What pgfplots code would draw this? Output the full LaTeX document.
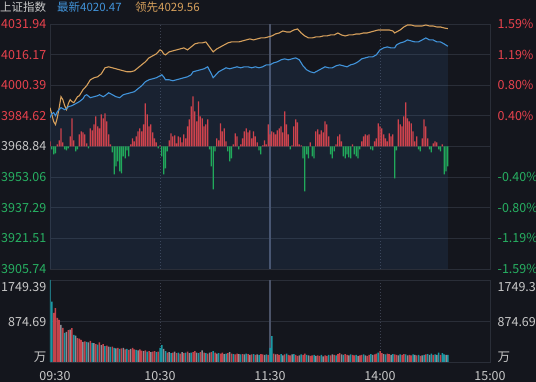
\documentclass[border=0pt]{standalone}
\usepackage{pgfplots}
\pgfplotsset{compat=1.18}
\usepackage{pgfplotstable}
\usepackage{fontspec}
\setmainfont{Noto Sans CJK SC}
\definecolor{bg}{HTML}{14161D}
\definecolor{gridc}{HTML}{2A2E38}
\definecolor{midc}{HTML}{4B5368}
\definecolor{dotc}{HTML}{3C4150}
\definecolor{upc}{HTML}{E8424D}
\definecolor{dnc}{HTML}{27B062}
\definecolor{upbar}{HTML}{CF434D}
\definecolor{dnbar}{HTML}{21A95B}
\definecolor{bluel}{HTML}{4193D9}
\definecolor{orgl}{HTML}{D6A05C}
\definecolor{labc}{HTML}{C8C8C8}
\definecolor{volr}{HTML}{C4434B}
\definecolor{volt}{HTML}{1A98A4}
\definecolor{volg}{HTML}{8C8C94}
\definecolor{fillc}{HTML}{3A6FB0}

\pgfplotsset{
  panel/.style={scale only axis, width=440pt, xmin=0, xmax=240, tick style={draw=none},
    xticklabels={}, yticklabels={}, axis line style={gridc, line width=0.8pt},
    major grid style={gridc, line width=0.8pt},
    xtick={60,180}, xmajorgrids, ymajorgrids,
    major x grid style={dotc, dash pattern=on 1.2pt off 1.8pt, line width=0.8pt},
    extra x ticks={120}, extra x tick labels={},
    extra x tick style={xmajorgrids, major x grid style={midc, solid, line width=1.5pt}}},
  vbar/.style={ybar, bar width=1.5pt, bar shift=0pt, draw=none}
}
\tikzset{
  lab/.style={font=\fontsize{12.5}{14}\selectfont, inner sep=0pt},
  ttl/.style={font=\fontsize{11.5}{13}\selectfont, inner sep=0pt, anchor=west}
}

\pgfplotstableread[row sep=\\]{
x y\\
0 3983.72\\ 1 3985.77\\ 2 3986.28\\ 3 3984.74\\ 4 3986.80\\ 5 3987.82\\ 6 3988.85\\ 8 3987.82\\ 9 3988.33\\ 10 3989.36\\
12 3989.87\\ 14 3990.90\\ 16 3991.93\\ 18 3993.46\\ 19 3995.00\\ 20 3995.52\\ 22 3993.98\\ 24 3994.49\\ 26 3995.00\\ 27 3995.52\\
29 3994.49\\ 30 3995.00\\ 32 3996.54\\ 34 3995.52\\ 36 3994.49\\ 38 3993.98\\ 40 3995.52\\ 42 3996.03\\ 44 3996.54\\ 46 3997.06\\
48 3998.59\\ 50 4000.13\\ 52 4002.19\\ 54 4003.21\\ 56 4003.72\\ 58 4004.24\\ 60 4005.26\\ 61 4005.78\\ 62 4004.75\\ 63 4003.21\\
65 4003.21\\ 67 4002.70\\ 69 4003.21\\ 71 4003.72\\ 73 4004.24\\ 75 4004.75\\ 77 4005.78\\ 78 4007.32\\ 80 4007.83\\ 82 4008.34\\
84 4008.85\\ 86 4009.88\\ 88 4006.29\\ 89 4004.24\\ 90 4005.26\\ 92 4007.32\\ 94 4008.34\\ 96 4009.37\\ 98 4008.85\\ 100 4009.37\\
102 4009.88\\ 104 4009.37\\ 106 4009.88\\ 108 4009.88\\ 110 4009.37\\ 112 4009.88\\ 114 4009.37\\ 116 4009.88\\ 118 4010.91\\ 120 4010.91\\
122 4011.93\\ 124 4012.45\\ 126 4013.47\\ 128 4013.98\\ 130 4013.47\\ 132 4013.98\\ 134 4014.50\\ 136 4013.47\\ 137 4011.93\\ 138 4010.39\\
140 4008.34\\ 142 4007.32\\ 144 4006.80\\ 146 4007.83\\ 148 4008.85\\ 150 4009.88\\ 152 4009.37\\ 154 4009.37\\ 156 4010.39\\ 158 4010.91\\
160 4010.39\\ 162 4009.88\\ 164 4010.91\\ 166 4011.42\\ 168 4012.45\\ 170 4013.98\\ 172 4014.50\\ 174 4015.01\\ 176 4015.01\\ 178 4016.04\\
180 4018.60\\ 182 4019.63\\ 184 4020.14\\ 186 4019.63\\ 188 4019.63\\ 189 4021.17\\ 191 4022.19\\ 193 4022.71\\ 195 4023.73\\ 197 4023.22\\
199 4022.71\\ 201 4022.71\\ 203 4023.73\\ 205 4024.76\\ 207 4023.73\\ 209 4023.73\\ 211 4022.71\\ 213 4022.71\\ 215 4021.68\\ 217 4020.47\\
}\bluetab

\pgfplotstableread[row sep=\\]{
x y\\
0 3988.85\\ 1 3985.26\\ 2 3981.67\\ 3 3980.13\\ 4 3983.72\\ 5 3988.85\\ 6 3994.49\\ 7 3992.95\\ 8 3989.87\\ 9 3987.82\\
10 3990.90\\ 11 3992.95\\ 12 3991.93\\ 13 3991.41\\ 14 3992.95\\ 15 3994.49\\ 16 3995.00\\ 18 3998.08\\ 20 4000.13\\ 22 4003.21\\
24 4004.24\\ 26 4004.75\\ 28 4006.29\\ 30 4009.37\\ 32 4009.88\\ 34 4009.37\\ 36 4008.85\\ 38 4008.34\\ 40 4007.83\\ 42 4007.32\\
44 4007.32\\ 46 4007.83\\ 48 4009.37\\ 50 4010.91\\ 52 4012.45\\ 54 4014.50\\ 56 4015.52\\ 58 4016.55\\ 60 4018.60\\ 61 4018.09\\
62 4016.55\\ 63 4016.04\\ 65 4017.58\\ 67 4018.09\\ 69 4018.60\\ 71 4019.11\\ 73 4019.63\\ 75 4018.60\\ 77 4020.14\\ 79 4021.68\\
81 4022.19\\ 83 4022.19\\ 85 4022.71\\ 87 4020.14\\ 89 4017.58\\ 91 4019.11\\ 93 4020.14\\ 95 4021.17\\ 97 4022.19\\ 99 4022.71\\
101 4022.71\\ 103 4022.71\\ 105 4023.22\\ 107 4023.73\\ 109 4024.25\\ 111 4023.73\\ 113 4024.25\\ 115 4024.76\\ 117 4024.76\\ 119 4025.27\\
121 4025.78\\ 123 4026.81\\ 125 4027.32\\ 127 4028.35\\ 129 4027.84\\ 131 4027.84\\ 133 4028.86\\ 135 4029.37\\ 136 4028.35\\ 137 4027.32\\
139 4025.78\\ 141 4024.76\\ 143 4024.76\\ 145 4025.27\\ 147 4025.27\\ 149 4025.78\\ 151 4025.78\\ 153 4026.30\\ 155 4026.30\\ 157 4027.32\\
159 4026.30\\ 161 4025.78\\ 163 4026.30\\ 165 4026.30\\ 167 4026.81\\ 169 4026.81\\ 171 4027.32\\ 173 4027.32\\ 175 4027.84\\ 177 4028.35\\
179 4028.86\\ 181 4028.86\\ 183 4028.86\\ 185 4028.86\\ 187 4028.35\\ 188 4027.32\\ 189 4027.84\\ 191 4028.86\\ 193 4030.40\\ 195 4031.43\\
197 4031.43\\ 199 4030.91\\ 201 4030.91\\ 203 4030.91\\ 205 4031.43\\ 207 4030.91\\ 209 4030.91\\ 211 4030.40\\ 213 4030.40\\ 215 4029.89\\ 217 4029.56\\
}\orgtab

\pgfplotstableread[row sep=\\]{
x h\\
0 5\\ 1 -3\\ 2 -8\\ 3 -7\\ 4 2\\ 5 6\\ 6 18\\ 7 4\\ 8 -3\\ 9 -4\\ 10 -2\\ 11 10\\ 12 28\\ 13 6\\ 14 -5\\ 15 -3\\ 16 12\\ 17 15\\ 18 14\\ 19 12\\
20 3\\ 21 -2\\ 22 18\\ 23 16\\ 24 22\\ 25 30\\ 26 20\\ 27 18\\ 28 32\\ 29 28\\ 30 33\\ 31 25\\ 32 12\\ 33 2\\ 34 -6\\ 35 -28\\ 36 -20\\ 37 -15\\ 38 -25\\ 39 -27\\
40 -10\\ 41 -12\\ 42 -4\\ 43 -10\\ 44 2\\ 45 8\\ 46 5\\ 47 10\\ 48 15\\ 49 18\\ 50 15\\ 51 22\\ 52 43\\ 53 32\\ 54 20\\ 55 22\\ 56 14\\ 57 8\\ 58 4\\ 59 -2\\
60 1\\ 61 -10\\ 62 -28\\ 63 -22\\ 64 -5\\ 65 6\\ 66 13\\ 67 10\\ 68 11\\ 69 3\\ 70 10\\ 71 9\\ 72 4\\ 73 12\\ 74 8\\ 75 20\\ 76 27\\ 77 40\\ 78 50\\ 79 35\\
80 25\\ 81 45\\ 82 30\\ 83 28\\ 84 20\\ 85 22\\ 86 27\\ 87 -3\\ 88 -20\\ 89 -43\\ 90 -5\\ 91 8\\ 92 6\\ 93 23\\ 94 15\\ 95 18\\ 96 5\\ 97 -5\\ 98 -15\\ 99 -12\\
100 2\\ 101 13\\ 102 10\\ 103 -3\\ 104 2\\ 105 8\\ 106 15\\ 107 18\\ 108 14\\ 109 16\\ 110 8\\ 111 15\\ 112 10\\ 113 4\\ 114 -4\\ 115 -8\\ 116 1\\ 117 6\\ 118 2\\ 119 22\\
120 12\\ 121 15\\ 122 14\\ 123 12\\ 124 16\\ 125 18\\ 126 20\\ 127 14\\ 128 35\\ 129 22\\ 130 12\\ 131 -3\\ 132 1\\ 133 20\\ 134 27\\ 135 24\\ 136 2\\ 137 1\\ 138 -12\\ 139 -45\\
140 -8\\ 141 -12\\ 142 4\\ 143 -10\\ 144 -12\\ 145 15\\ 146 17\\ 147 12\\ 148 16\\ 149 14\\ 150 25\\ 151 22\\ 152 10\\ 153 -8\\ 154 -12\\ 155 -5\\ 156 2\\ 157 10\\ 158 12\\ 159 5\\
160 -10\\ 161 -12\\ 162 -8\\ 163 -11\\ 164 -12\\ 165 2\\ 166 -8\\ 167 -10\\ 168 -12\\ 169 -3\\ 170 5\\ 171 10\\ 172 12\\ 173 11\\ 174 12\\ 175 -3\\ 176 -4\\ 177 5\\ 178 8\\ 179 23\\
180 20\\ 181 18\\ 182 12\\ 183 8\\ 184 5\\ 185 13\\ 186 10\\ 187 12\\ 188 -32\\ 189 -4\\ 190 27\\ 191 22\\ 192 20\\ 193 30\\ 194 44\\ 195 28\\ 196 25\\ 197 23\\ 198 15\\ 199 5\\
200 10\\ 201 -3\\ 202 -5\\ 203 8\\ 204 27\\ 205 20\\ 206 8\\ 207 -3\\ 208 -6\\ 209 3\\ 210 5\\ 211 4\\ 212 -3\\ 213 -5\\ 214 2\\ 215 -28\\ 216 -25\\ 217 -20\\
}\bartab

% volume (wan), split by bar colour
\pgfplotstableread[row sep=\\]{
x v\\
2 1050\\ 3 1150\\ 4 940\\ 5 900\\ 7 730\\ 10 680\\ 12 720\\ 15 510\\ 16 500\\ 17 470\\ 19 440\\ 22 450\\ 25 380\\ 27 420\\ 29 380\\
31 350\\ 34 330\\ 37 300\\ 39 290\\ 41 270\\ 43 260\\ 45 300\\ 46 270\\ 49 270\\ 50 240\\ 52 250\\ 54 230\\ 56 220\\ 57 230\\ 59 220\\
64 200\\ 67 200\\ 69 190\\ 71 180\\ 73 190\\ 75 220\\ 78 210\\ 79 230\\ 82 210\\ 84 200\\ 86 180\\ 88 210\\ 90 200\\ 93 180\\ 94 200\\
97 190\\ 99 180\\ 101 160\\ 102 180\\ 105 170\\ 108 170\\ 110 160\\ 112 150\\ 115 170\\ 116 160\\ 119 150\\ 122 180\\ 124 170\\ 125 150\\ 128 160\\
130 150\\ 131 140\\ 134 150\\ 135 130\\ 138 150\\ 139 180\\ 142 130\\ 143 140\\ 146 140\\ 147 130\\ 150 140\\ 151 130\\ 153 140\\ 155 150\\ 157 170\\
158 190\\ 161 170\\ 162 150\\ 165 150\\ 166 140\\ 169 140\\ 170 150\\ 173 130\\ 174 150\\ 177 160\\ 178 180\\ 180 230\\ 181 190\\ 184 180\\ 185 170\\
188 160\\ 189 150\\ 192 150\\ 193 170\\ 196 150\\ 197 140\\ 200 140\\ 202 130\\ 205 160\\ 209 150\\ 213 150\\
}\volred

\pgfplotstableread[row sep=\\]{
x v\\
0 1749.39\\ 1 1290\\ 8 620\\ 13 580\\ 20 430\\ 23 410\\ 26 370\\ 30 340\\ 33 320\\ 35 300\\ 38 280\\ 42 280\\ 47 260\\ 53 220\\ 58 210\\
60 300\\ 61 360\\ 63 230\\ 66 190\\ 70 200\\ 74 200\\ 77 200\\ 81 190\\ 85 190\\ 89 230\\ 92 190\\ 96 180\\ 100 170\\ 104 160\\ 107 180\\
111 170\\ 114 150\\ 118 160\\ 120 300\\ 121 550\\ 126 170\\ 129 180\\ 133 170\\ 137 160\\ 140 150\\ 144 150\\ 148 150\\ 152 150\\ 156 140\\ 160 150\\
164 160\\ 167 150\\ 171 160\\ 175 170\\ 179 200\\ 183 160\\ 187 170\\ 191 160\\ 194 160\\ 198 160\\ 201 150\\ 204 150\\ 206 170\\ 208 180\\ 210 160\\
212 200\\ 214 190\\ 215 160\\ 217 150\\
}\volteal

\pgfplotstableread[row sep=\\]{
x v\\
6 790\\ 9 640\\ 11 690\\ 14 560\\ 18 430\\ 21 420\\ 24 400\\ 28 360\\ 32 330\\ 36 290\\ 40 300\\ 44 280\\ 48 250\\ 51 230\\ 55 210\\
62 280\\ 65 210\\ 68 220\\ 72 210\\ 76 190\\ 80 200\\ 83 250\\ 87 200\\ 91 180\\ 95 170\\ 98 210\\ 103 170\\ 106 160\\ 109 150\\ 113 160\\
117 150\\ 123 160\\ 127 140\\ 132 160\\ 136 140\\ 141 140\\ 145 130\\ 149 120\\ 154 160\\ 159 160\\ 163 140\\ 168 130\\ 172 140\\ 176 150\\ 182 170\\
186 150\\ 190 140\\ 195 140\\ 199 150\\ 203 140\\ 207 150\\ 211 150\\ 216 150\\
}\volgray

\begin{document}
\begin{tikzpicture}
\useasboundingbox (0,0) rectangle (536pt,382pt);
\clip (0,0) rectangle (536pt,382pt);
\fill[bg] (0,0) rectangle (536pt,382pt);

% main price panel: grid + area
\begin{axis}[panel, at={(50pt,113pt)}, anchor=south west, height=245pt,
  ymin=3905.74, ymax=4031.94,
  ytick={3905.74,3921.51,3937.29,3953.06,3968.84,3984.62,4000.39,4016.17,4031.94}]
\addplot[draw=none, fill=fillc, fill opacity=0.14] table[x=x,y=y]{\bluetab} \closedcycle;
\end{axis}

% up/down bars
\begin{axis}[scale only axis, width=440pt, height=245pt, at={(50pt,113pt)}, anchor=south west,
  xmin=0, xmax=240, ymin=-122.5, ymax=122.5, hide axis]
\addplot[ybar, bar width=1.2pt, bar shift=0pt, fill=upbar, draw=none, restrict y to domain=0.5:500] table[x=x,y=h]{\bartab};
\addplot[ybar, bar width=1.2pt, bar shift=0pt, fill=dnbar, draw=none, restrict y to domain=-500:-0.5] table[x=x,y=h]{\bartab};
\end{axis}

% price lines
\begin{axis}[scale only axis, width=440pt, height=245pt, at={(50pt,113pt)}, anchor=south west,
  xmin=0, xmax=240, ymin=3905.74, ymax=4031.94, hide axis]
\addplot[orgl, line width=1.1pt] table[x=x,y=y]{\orgtab};
\addplot[bluel, line width=1.1pt] table[x=x,y=y]{\bluetab};
\end{axis}

% volume panel
\begin{axis}[panel, at={(50pt,20pt)}, anchor=south west, height=82pt,
  ymin=0, ymax=1749.39, ytick={0,874.69,1749.39}]
\addplot[vbar, fill=volr] table[x=x,y=v]{\volred};
\addplot[vbar, fill=volt] table[x=x,y=v]{\volteal};
\addplot[vbar, fill=volg] table[x=x,y=v]{\volgray};
\end{axis}

% title
\node[ttl, text=labc] at (0pt,374.5pt) {上证指数};
\node[ttl, text=bluel] at (57pt,374.5pt) {最新4020.47};
\node[ttl, text=orgl] at (135pt,374.5pt) {领先4029.56};

% left price labels
\node[lab, anchor=east, text=upc] at (46.5pt,358pt) {4031.94};
\node[lab, anchor=east, text=upc] at (46.5pt,327.4pt) {4016.17};
\node[lab, anchor=east, text=upc] at (46.5pt,296.75pt) {4000.39};
\node[lab, anchor=east, text=upc] at (46.5pt,266.1pt) {3984.62};
\node[lab, anchor=east, text=labc] at (46.5pt,235.5pt) {3968.84};
\node[lab, anchor=east, text=dnc] at (46.5pt,204.9pt) {3953.06};
\node[lab, anchor=east, text=dnc] at (46.5pt,174.25pt) {3937.29};
\node[lab, anchor=east, text=dnc] at (46.5pt,143.6pt) {3921.51};
\node[lab, anchor=east, text=dnc] at (46.5pt,113pt) {3905.74};

% right percent labels
\node[lab, anchor=west, text=upc] at (497.5pt,358pt) {1.59\%};
\node[lab, anchor=west, text=upc] at (497.5pt,327.4pt) {1.19\%};
\node[lab, anchor=west, text=upc] at (497.5pt,296.75pt) {0.80\%};
\node[lab, anchor=west, text=upc] at (497.5pt,266.1pt) {0.40\%};
\node[lab, anchor=west, text=dnc] at (497.5pt,204.9pt) {-0.40\%};
\node[lab, anchor=west, text=dnc] at (497.5pt,174.25pt) {-0.80\%};
\node[lab, anchor=west, text=dnc] at (497.5pt,143.6pt) {-1.19\%};
\node[lab, anchor=west, text=dnc] at (497.5pt,113pt) {-1.59\%};

% volume labels
\node[lab, anchor=east, text=labc] at (46.5pt,95pt) {1749.39};
\node[lab, anchor=east, text=labc] at (46.5pt,60pt) {874.69};
\node[lab, anchor=east, text=labc] at (46.5pt,25pt) {万};
\node[lab, anchor=west, text=labc] at (497.5pt,95pt) {1749.39};
\node[lab, anchor=west, text=labc] at (497.5pt,60pt) {874.69};
\node[lab, anchor=west, text=labc] at (497.5pt,25pt) {万};

% time labels
\node[lab, text=labc] at (55pt,6pt) {09:30};
\node[lab, text=labc] at (160pt,6pt) {10:30};
\node[lab, text=labc] at (270pt,6pt) {11:30};
\node[lab, text=labc] at (380pt,6pt) {14:00};
\node[lab, text=labc] at (490pt,6pt) {15:00};
\end{tikzpicture}
\end{document}
